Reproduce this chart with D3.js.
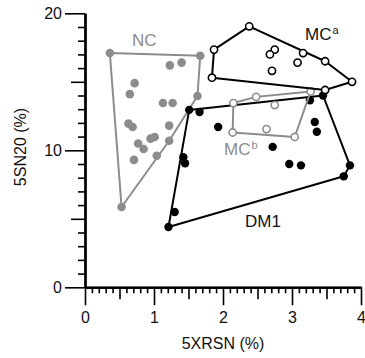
<!DOCTYPE html>
<html>
<head>
<meta charset="utf-8">
<script src="https://cdn.jsdelivr.net/npm/d3@7"></script>
<style>
  body { margin: 0; background: #fff; }
  svg { display: block; font-family: Arial, "Liberation Sans", sans-serif; }
</style>
</head>
<body>
<div id="chart"></div>
<script>
// values: [5XRSN %, 5SN20 %]
const ncPoints = [
  [0.36, 17.1], [1.67, 16.9], [1.63, 13.96], [1.22, 10.7], [1.04, 9.6], [0.53, 5.86],
  [1.23, 16.2], [1.40, 16.4], [0.72, 14.9], [0.65, 14.1], [1.13, 13.45], [1.27, 13.45],
  [0.63, 11.95], [0.69, 11.7], [1.22, 11.8], [0.95, 10.85], [1.01, 10.97],
  [0.77, 10.5], [0.85, 10.1], [0.71, 9.3]
];
const mcPoints = [
  [2.38, 19.05], [1.87, 17.35], [1.84, 15.3], [3.87, 15.0], [3.48, 16.5], [3.48, 14.4],
  [3.16, 17.1], [2.75, 17.35], [2.68, 17.0], [3.08, 16.4], [2.71, 15.8]
];
const mcbPoints = [
  [2.15, 13.45], [2.48, 13.9], [3.27, 14.3], [3.04, 10.97], [2.14, 11.3],
  [2.75, 13.3], [2.63, 11.55]
];
const dm1Points = [
  [1.21, 4.4], [1.30, 5.5], [1.425, 9.5], [1.45, 9.05], [1.51, 12.95], [1.66, 12.8],
  [3.45, 14.0], [3.26, 13.65], [3.84, 8.9], [3.75, 8.1],
  [1.93, 11.7], [3.33, 12.07], [3.36, 11.35], [2.72, 10.25], [2.96, 9.0], [3.13, 8.9]
];
const xTicks = [0, 1, 2, 3, 4];
const yTicks = [0, 10, 20];

const width = 365, height = 358;
const gray = "#8c8c8c";

const svg = d3.select("#chart").append("svg")
  .attr("width", width)
  .attr("height", height);

const x = d3.scaleLinear().domain([0, 4]).range([85, 361]);
const y = d3.scaleLinear().domain([0, 20]).range([287.3, 13.3]);

// ---- axes ----
const xMinor = d3.range(0, 41).map(d => d / 10).filter(d => Math.round(d * 10) % 5 !== 0);
const xHalf = [0.5, 1.5, 2.5, 3.5];
const yMinor = d3.range(0, 21).filter(d => d % 5 !== 0);
const yHalf = [5, 15];

function tickAxis(axis, size, vals) {
  return axis.tickValues(vals).tickSize(size).tickSizeOuter(0).tickFormat("");
}

const xg = svg.append("g").attr("transform", `translate(0,${y(0)})`);
xg.append("g").call(tickAxis(d3.axisBottom(x), 6, xMinor));
xg.append("g").call(tickAxis(d3.axisBottom(x), 12, xHalf));
xg.append("g").call(d3.axisBottom(x).tickValues(xTicks).tickFormat(d3.format("d"))
  .tickSize(18).tickSizeOuter(0).tickPadding(6));

const yg = svg.append("g").attr("transform", `translate(${x(0)},0)`);
yg.append("g").call(tickAxis(d3.axisLeft(y), 7, yMinor));
yg.append("g").call(tickAxis(d3.axisLeft(y), 14, yHalf));
yg.append("g").call(d3.axisLeft(y).tickValues(yTicks).tickFormat(d3.format("d"))
  .tickSize(20).tickSizeOuter(0).tickPadding(3));

svg.selectAll(".domain").attr("stroke", "#000").attr("stroke-width", 2);
svg.selectAll(".tick line").attr("stroke", "#000").attr("stroke-width", 1.6);
svg.selectAll(".tick text")
  .attr("font-size", 16)
  .attr("font-family", "Arial, 'Liberation Sans', sans-serif")
  .attr("fill", "#111");

svg.append("text")
  .attr("x", 223).attr("y", 349)
  .attr("text-anchor", "middle")
  .attr("font-size", 16)
  .attr("fill", "#111")
  .text("5XRSN (%)");

svg.append("text")
  .attr("transform", "translate(26,147) rotate(-90)")
  .attr("text-anchor", "middle")
  .attr("font-size", 16)
  .attr("fill", "#111")
  .text("5SN20 (%)");

// ---- groups: hull outline + points ----
function drawGroup(pts, stroke, fill, r) {
  const g = svg.append("g");
  const hull = d3.polygonHull(pts.map(p => [x(p[0]), y(p[1])]));
  g.append("path")
    .attr("d", "M" + hull.join("L") + "Z")
    .attr("fill", "none")
    .attr("stroke", stroke)
    .attr("stroke-width", 2)
    .attr("stroke-linejoin", "round");
  g.selectAll("circle")
    .data(pts)
    .enter()
    .append("circle")
    .attr("cx", d => x(d[0]))
    .attr("cy", d => y(d[1]))
    .attr("r", r)
    .attr("fill", fill)
    .attr("stroke", fill === "#fff" ? stroke : "none")
    .attr("stroke-width", 1.6);
}

drawGroup(ncPoints, gray, gray, 4.3);
drawGroup(dm1Points, "#000", "#000", 4.2);
drawGroup(mcbPoints, gray, "#fff", 3.6);
drawGroup(mcPoints, "#000", "#fff", 3.6);

// ---- group labels ----
function label(px, py, main, sup, color) {
  const t = svg.append("text")
    .attr("x", px).attr("y", py)
    .attr("font-size", 17)
    .attr("fill", color)
    .text(main);
  if (sup) {
    t.append("tspan")
      .attr("font-size", 11)
      .attr("dy", -6)
      .attr("dx", 1)
      .text(sup);
  }
}
label(132, 46, "NC", null, gray);
label(305, 40, "MC", "a", "#111");
label(224, 155, "MC", "b", gray);
label(245, 227, "DM1", null, "#111");
</script>
</body>
</html>
